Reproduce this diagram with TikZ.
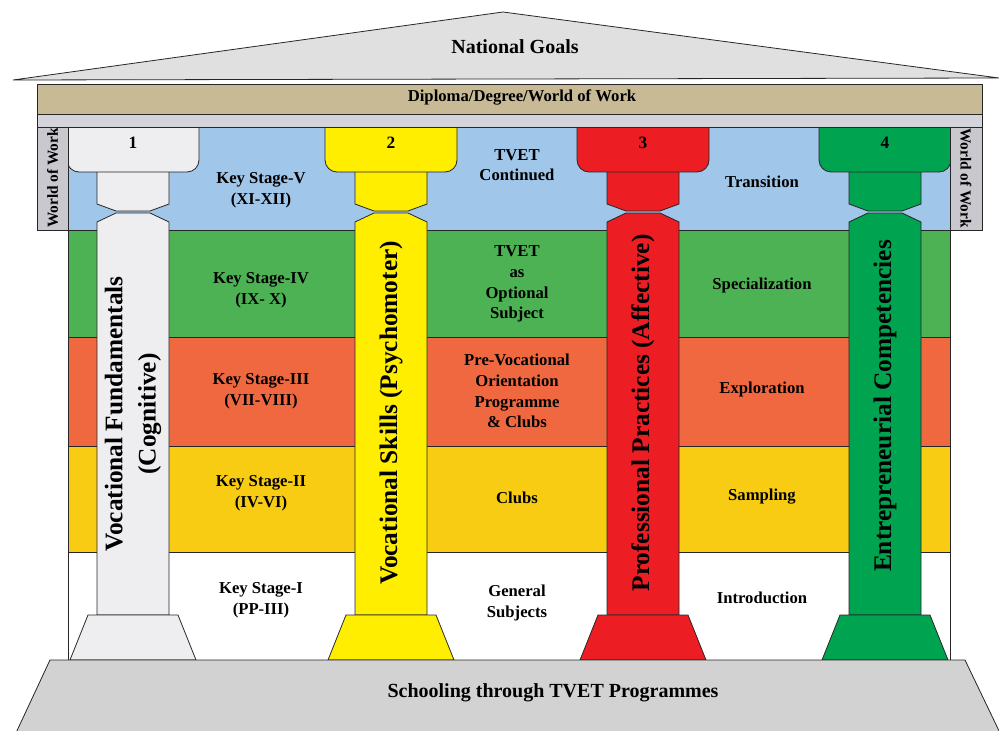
\documentclass[tikz,border=0pt]{standalone}
\usepackage{fontspec}
\setmainfont{Liberation Serif}
\definecolor{roofgray}{RGB}{224,224,224}
\definecolor{beamtan}{RGB}{201,186,150}
\definecolor{stripgray}{RGB}{212,212,218}
\definecolor{sidegray}{RGB}{200,200,206}
\definecolor{bandblue}{RGB}{160,198,234}
\definecolor{bandgreen}{RGB}{77,178,84}
\definecolor{bandorange}{RGB}{240,104,64}
\definecolor{bandgold}{RGB}{248,204,18}
\definecolor{pillarwhite}{RGB}{238,238,240}
\definecolor{pillaryellow}{RGB}{255,238,0}
\definecolor{pillarred}{RGB}{236,30,36}
\definecolor{pillargreen}{RGB}{0,164,80}
\definecolor{basegray}{RGB}{210,210,210}
\tikzset{
  outline/.style={draw=black!85,line width=0.6pt},
  stagetext/.style={font=\bfseries\fontsize{12.5}{15.5}\selectfont,align=center},
  pillartext/.style={font=\bfseries\fontsize{19}{25}\selectfont,align=center,rotate=90},
  sidetext/.style={font=\bfseries\fontsize{11.5}{13}\selectfont},
}
\begin{document}
\begin{tikzpicture}[x=0.75pt,y=-0.75pt]
    \useasboundingbox (0,0) rectangle (999,731);
    % roof
    \draw[outline,fill=roofgray] (13,80) -- (503,12) -- (999,78) -- cycle;
    \node[font=\bfseries\fontsize{15}{18}\selectfont] (goals) at (515,47) {National Goals};
    % stage bands
    \foreach \top/\bot/\col in {127/230/bandblue,230/337/bandgreen,337/446/bandorange,446/552/bandgold,552/660/white} {
        \draw[outline,fill=\col] (68,\top) rectangle (950,\bot);
    }
    % pillars
    \foreach \c/\col/\num in {133/pillarwhite/1,391/pillaryellow/2,643/pillarred/3,885/pillargreen/4} {
        \draw[outline,fill=\col] (\c-36,170) -- (\c-36,204) -- (\c-17,211) -- (\c+17,211) -- (\c+36,204) -- (\c+36,170) -- cycle;
        \draw[outline,fill=\col,rounded corners=9pt] (\c-66,116) rectangle (\c+66,172);
        \draw[outline,fill=\col] (\c-17,213) -- (\c-36,222) -- (\c-36,615) -- (\c+36,615) -- (\c+36,222) -- (\c+17,213) -- cycle;
        \draw[outline,fill=\col] (\c-45,615) -- (\c+45,615) -- (\c+63,660) -- (\c-63,660) -- cycle;
        \node[font=\bfseries\fontsize{13}{15}\selectfont] (num\num) at (\c,143) {\num};
    }
    \node[pillartext] (fundamentals) at (133,414) {Vocational Fundamentals\\(Cognitive)};
    \node[pillartext] (skills) at (391,413) {Vocational Skills (Psychomoter)};
    \node[pillartext] (practices) at (643,413) {Professional Practices (Affective)};
    \node[pillartext] (competencies) at (885,406) {Entrepreneurial Competencies};
    % beam and side boxes
    \draw[outline,fill=stripgray] (37,114) rectangle (982,127);
    \draw[outline,fill=beamtan] (37,84) rectangle (982,114);
    \node[font=\bfseries\fontsize{12.5}{15}\selectfont] (diploma) at (522,97) {Diploma/Degree/World of Work};
    \draw[outline,fill=sidegray] (37,127) rectangle (68,230);
    \draw[outline,fill=sidegray] (950,127) rectangle (982,230);
    \node[sidetext,rotate=90] (worldleft) at (52.5,178) {World of Work};
    \node[sidetext,rotate=-90] (worldright) at (966,178) {World of Work};
    % stage texts
    \foreach \n/\y/\t in {kfive/190/{Key Stage-V\\(XI-XII)},kfour/290/{Key Stage-IV\\(IX- X)},kthree/391/{Key Stage-III\\(VII-VIII)},ktwo/493/{Key Stage-II\\(IV-VI)},kone/600/{Key Stage-I\\(PP-III)}} {
        \node[stagetext] (\n) at (261,\y) {\t};
    }
    \foreach \n/\y/\t in {tfive/165/{TVET\\Continued},tfour/284/{TVET\\as\\Optional\\Subject},tthree/391/{Pre-Vocational\\Orientation\\Programme\\\& Clubs},ttwo/498/{Clubs},tone/603/{General\\Subjects}} {
        \node[stagetext] (\n) at (517,\y) {\t};
    }
    \foreach \n/\y/\t in {pfive/182/Transition,pfour/285/Specialization,pthree/389/Exploration,ptwo/497/Sampling,pone/598/Introduction} {
        \node[stagetext] (\n) at (762,\y) {\t};
    }
    % foundation
    \draw[outline,fill=basegray] (50,660) -- (965,660) -- (1001,735) -- (15,735) -- cycle;
    \node[font=\bfseries\fontsize{15}{18}\selectfont] (schooling) at (553,693) {Schooling through TVET Programmes};
\end{tikzpicture}
\end{document}
